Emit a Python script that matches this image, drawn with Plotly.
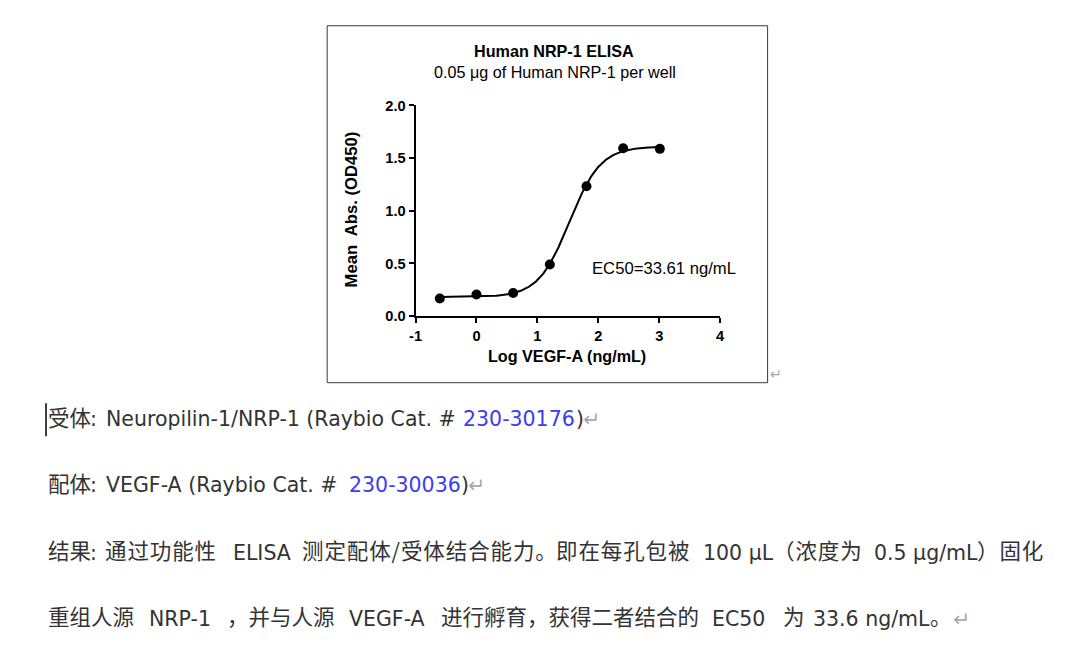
import numpy as np
import plotly.graph_objects as go

# Reference pixel positions are converted to figure pixels with an empirical
# mapping measured from earlier renders (page margin + capture scaling).
SX, SY, OFF = 0.99, 0.973, 8.0
W, H = 1064, 656

# ---- data ----
log_conc = [-0.602, 0.0, 0.602, 1.204, 1.806, 2.408, 3.010]
mean_abs = [0.167, 0.205, 0.218, 0.489, 1.233, 1.593, 1.588]

# 4PL fit parameters (EC50 = 33.61 ng/mL)
fit_bottom = 0.18
fit_top = 1.61
fit_ec50 = 33.61
fit_hill = 1.7

x_ticks = [-1, 0, 1, 2, 3, 4]
x_ticklabels = ["-1", "0", "1", "2", "3", "4"]
y_ticks = [0.0, 0.5, 1.0, 1.5, 2.0]
y_ticklabels = ["0.0", "0.5", "1.0", "1.5", "2.0"]

title = "Human NRP-1 ELISA"
subtitle = "0.05 μg of Human NRP-1 per well"
x_title = "Log VEGF-A (ng/mL)"
y_title = "Mean  Abs. (OD450)"
ec50_label = "EC50=33.61 ng/mL"

BLUE = "#3c3cf2"
GREY = "#a8a8a8"
TXT = "#333333"

L1, L2, L3, L4 = 416.5, 482.5, 549.5, 615.5
# document text: (text, left x in reference px, line centre y, script kind, colour)
doc_segments = [
    ("受体", 47, L1, "cjk", TXT),
    (":", 89, L1, "lat", TXT),
    ("Neuropilin-1/NRP-1 (Raybio Cat. #", 105, L1, "lat", TXT),
    ("230-30176", 463, L1, "lat", BLUE),
    (")", 576, L1, "lat", TXT),
    ("↵", 583, L1, "lat", GREY),
    ("配体", 47, L2, "cjk", TXT),
    (":", 89, L2, "lat", TXT),
    ("VEGF-A (Raybio Cat. #", 105, L2, "lat", TXT),
    ("230-30036", 348, L2, "lat", BLUE),
    (")", 461, L2, "lat", TXT),
    ("↵", 468, L2, "lat", GREY),
    ("结果", 47, L3, "cjk", TXT),
    (":", 89, L3, "lat", TXT),
    ("通过功能性", 104, L3, "cjkj", TXT),
    ("ELISA", 232, L3, "lat", TXT),
    ("测定配体/受体结合能力。", 301, L3, "cjkj", TXT),
    ("即在每孔包被", 556, L3, "cjkj", TXT),
    ("100 μL", 703, L3, "lat", TXT),
    ("（浓度为", 773, L3, "cjkj", TXT),
    ("0.5 μg/mL", 874, L3, "lat", TXT),
    ("）固化", 977, L3, "cjkj", TXT),
    ("重组人源", 47, L4, "cjk", TXT),
    ("NRP-1", 148, L4, "lat", TXT),
    ("，并与人源", 226, L4, "cjk", TXT),
    ("VEGF-A", 348, L4, "lat", TXT),
    ("进行孵育，获得二者结合的", 440, L4, "cjk", TXT),
    ("EC50", 712, L4, "lat", TXT),
    ("为", 783, L4, "cjk", TXT),
    ("33.6 ng/mL", 813, L4, "lat", TXT),
    ("。", 930, L4, "cjk", TXT),
    ("↵", 953, L4, "lat", GREY),
]
CJK_FONT = dict(family="Noto Sans CJK SC", size=21.3)
LAT_FONT = dict(family="DejaVu Sans", size=20.3)
# vertical nudges so both scripts share one baseline
CJK_DY, LAT_DY = -1.5, 1.5


def fx(x):
    return x / SX - OFF


def fy(y):
    return y / SY - OFF


def px(x):
    return fx(x) / W


def py(y):
    return 1 - fy(y) / H


def fs(s):
    return s / SX


xc = np.linspace(log_conc[0], log_conc[-1], 300)
yc = fit_bottom + (fit_top - fit_bottom) / (1 + 10 ** ((np.log10(fit_ec50) - xc) * fit_hill))

fig = go.Figure()
fig.add_trace(go.Scatter(x=xc, y=yc, mode="lines", line=dict(color="black", width=2),
                         hoverinfo="skip", showlegend=False))
fig.add_trace(go.Scatter(x=log_conc, y=mean_abs, mode="markers",
                         marker=dict(color="black", size=10), showlegend=False))

axfont = dict(family="Liberation Sans, Arial", size=fs(14.5), color="black", weight="bold")

fig.update_layout(
    width=W, height=H, autosize=False,
    margin=dict(l=0, r=0, t=0, b=0),
    paper_bgcolor="white", plot_bgcolor="white",
    xaxis=dict(domain=[px(417), px(722)], range=[-1, 4], tickvals=x_ticks, ticktext=x_ticklabels,
               showline=True, linecolor="black", linewidth=2,
               ticks="outside", ticklen=5, tickwidth=2, tickcolor="black",
               showgrid=False, zeroline=False, tickfont=axfont, fixedrange=True),
    yaxis=dict(domain=[py(315), py(105)], range=[0, 2], tickvals=y_ticks, ticktext=y_ticklabels,
               showline=True, linecolor="black", linewidth=2,
               ticks="outside", ticklen=5, tickwidth=2, tickcolor="black",
               showgrid=False, zeroline=False, tickfont=axfont, fixedrange=True),
)

# chart frame
fig.add_shape(type="rect", xref="paper", yref="paper", x0=px(328.5), x1=px(769.5), y0=py(381.5), y1=py(25.5),
              line=dict(color="#3a3a3a", width=1))

ann = []
ann.append(dict(text="<b>" + title + "</b>", x=px(556), y=py(51), font=dict(family="Liberation Sans, Arial", size=fs(16), color="black")))
ann.append(dict(text=subtitle, x=px(557), y=py(71.5), font=dict(family="Liberation Sans, Arial", size=fs(16), color="black")))
ann.append(dict(text="<b>" + x_title + "</b>", x=px(569), y=py(355), font=dict(family="Liberation Sans, Arial", size=fs(16), color="black")))
ann.append(dict(text="<b>" + y_title + "</b>", x=px(353), y=py(209), textangle=-90,
                font=dict(family="Liberation Sans, Arial", size=fs(16.5), color="black")))
ann.append(dict(text=ec50_label, x=px(592), y=py(268), xanchor="left",
                font=dict(family="Liberation Sans, Arial", size=fs(16.5), color="black")))
ann.append(dict(text="↵", x=px(770), y=py(373), xanchor="left",
                font=dict(family="DejaVu Sans", size=fs(14), color=GREY)))

for t, x0, y0, kind, col in doc_segments:
    if kind == "lat":
        f = dict(LAT_FONT)
        y0 = y0 + LAT_DY
    else:
        f = dict(CJK_FONT)
        y0 = y0 + CJK_DY
    if kind == "cjkj":  # justified line: slightly wider character pitch
        t = "<span style='letter-spacing:0.9px'>" + t + "</span>"
    f["size"] = fs(f["size"])
    f["color"] = col
    ann.append(dict(text=t, x=px(x0), y=py(y0), xanchor="left", font=f))

for a in ann:
    a.setdefault("xanchor", "center")
    a.update(xref="paper", yref="paper", yanchor="middle", showarrow=False)
    fig.add_annotation(**a)

# text caret
fig.add_shape(type="line", xref="paper", yref="paper", x0=px(47), x1=px(47), y0=py(402), y1=py(435),
              line=dict(color="black", width=1.5))

fig.write_html("out.html")
